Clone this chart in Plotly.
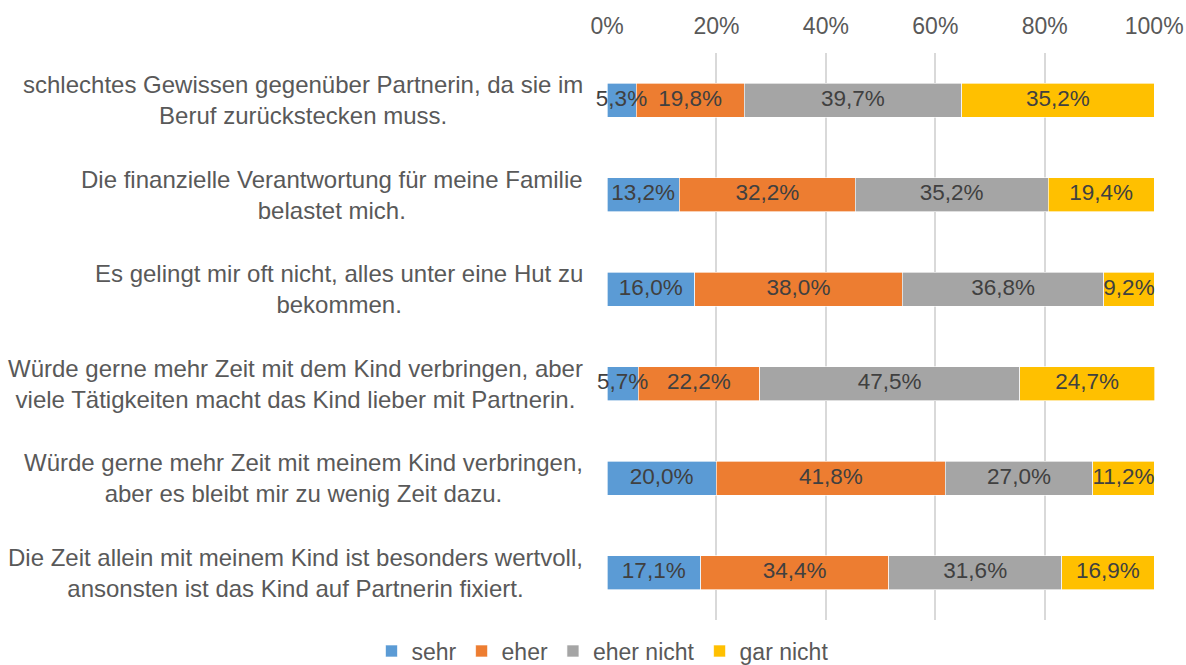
import plotly.graph_objects as go

categories = [
    "schlechtes Gewissen gegenüber Partnerin, da sie im<br>Beruf zurückstecken muss.",
    "Die finanzielle Verantwortung für meine Familie<br>belastet mich.",
    "Es gelingt mir oft nicht, alles unter eine Hut zu<br>bekommen.",
    "Würde gerne mehr Zeit mit dem Kind verbringen, aber<br>viele Tätigkeiten macht das Kind lieber mit Partnerin.",
    "Würde gerne mehr Zeit mit meinem Kind verbringen,<br>aber es bleibt mir zu wenig Zeit dazu.",
    "Die Zeit allein mit meinem Kind ist besonders wertvoll,<br>ansonsten ist das Kind auf Partnerin fixiert.",
]
series_names = ["sehr", "eher", "eher nicht", "gar nicht"]
sehr = [5.3, 13.2, 16.0, 5.7, 20.0, 17.1]
eher = [19.8, 32.2, 38.0, 22.2, 41.8, 34.4]
eher_nicht = [39.7, 35.2, 36.8, 47.5, 27.0, 31.6]
gar_nicht = [35.2, 19.4, 9.2, 24.7, 11.2, 16.9]
colors = ["#5B9BD5", "#ED7D31", "#A5A5A5", "#FFC000"]
tick_vals = [0, 20, 40, 60, 80, 100]
tick_text = ["0%", "20%", "40%", "60%", "80%", "100%"]

FONT = "Liberation Sans, Arial, sans-serif"
all_series = [sehr, eher, eher_nicht, gar_nicht]

fig = go.Figure()
for name, vals, col in zip(series_names, all_series, colors):
    fig.add_trace(go.Bar(
        y=categories, x=vals, name=name, orientation="h",
        marker=dict(color=col, line=dict(color="rgba(255,255,255,0.8)", width=0.8)),
        hoverinfo="skip", cliponaxis=False,
    ))

# data labels drawn on top of all bars (centred in each segment)
base = [0.0] * len(categories)
for vals in all_series:
    mids = [b + v / 2 for b, v in zip(base, vals)]
    fig.add_trace(go.Scatter(
        x=mids, y=categories, mode="text", customdata=vals,
        texttemplate="%{customdata:.1f}%", textposition="middle center",
        textfont=dict(family=FONT, size=22.5, color="#404040"),
        showlegend=False, hoverinfo="skip", cliponaxis=False,
    ))
    base = [b + v for b, v in zip(base, vals)]

for cat in categories:
    fig.add_annotation(
        x=0, xref="paper", y=cat, yref="y", xanchor="right", yanchor="middle",
        xshift=-22, text=cat, showarrow=False, align="center",
        font=dict(family=FONT, size=24, color="#595959"),
    )

fig.update_layout(
    barmode="stack", bargap=0.64,
    width=1186, height=665,
    margin=dict(l=607, r=31, t=53, b=45, autoexpand=False),
    paper_bgcolor="white", plot_bgcolor="white",
    separators=",.",
    font=dict(family=FONT, size=23, color="#595959"),
    showlegend=True,
    legend=dict(
        orientation="h", xref="container", yref="container",
        x=0.508, xanchor="center", y=0.021, yanchor="middle",
        font=dict(family=FONT, size=23, color="#595959"),
        traceorder="normal", itemclick=False, borderwidth=0,
    ),
)
fig.update_xaxes(
    side="top", range=[0, 100.15], tickvals=tick_vals, ticktext=tick_text,
    showgrid=True, gridcolor="#D9D9D9", gridwidth=1.5, zeroline=False, showline=False,
    ticks="", ticklabelstandoff=13, automargin=False,
    tickfont=dict(family=FONT, size=23, color="#595959"),
)
fig.update_yaxes(
    autorange="reversed", showticklabels=False, showgrid=False, zeroline=False, ticks="",
    automargin=False,
)

fig.write_html(
    "out.html",
    config={"displayModeBar": False},
    post_script="document.body.style.margin='0';document.body.style.overflow='hidden';",
)
